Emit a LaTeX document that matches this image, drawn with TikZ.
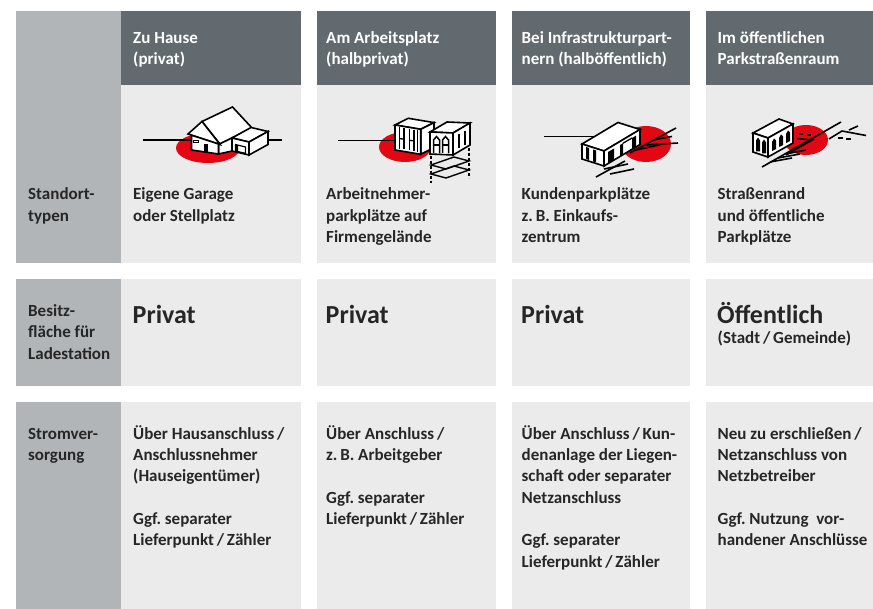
\documentclass[tikz,border=0pt]{standalone}
\usepackage{fontspec}
\setmainfont{Carlito}
\frenchspacing
\definecolor{hdr}{HTML}{636A6F}
\definecolor{lab}{HTML}{B1B5B8}
\definecolor{cell}{HTML}{EBEBEB}
\definecolor{rd}{HTML}{E30613}
\definecolor{txtc}{HTML}{262626}
\tikzset{
  txt/.style={anchor=base west, inner sep=0pt, align=left, text=txtc, font=\bfseries\fontsize{17}{21.3}\selectfont},
  hd/.style={txt, text=white},
  big/.style={txt, font=\bfseries\fontsize{26}{30}\selectfont},
  ic/.style={draw=black, fill=white, line width=1.6pt, line join=miter},
  icl/.style={draw=black, line width=1.6pt},
  redspot/.style={fill=rd},
}
\begin{document}
\begin{tikzpicture}[x=1pt,y=-1pt]
\useasboundingbox (0,0) rectangle (873,609);
\fill[white] (0,0) rectangle (873,609);
% ---------- backgrounds ----------
\fill[lab] (16,11) rectangle (121,263);
\fill[lab] (16,279) rectangle (121,386);
\fill[lab] (16,402) rectangle (121,609);
\foreach \a/\b in {121/301,317/496,512/690,706/873}{
  \fill[cell] (\a,85) rectangle (\b,263);
  \fill[hdr] (\a,11) rectangle (\b,85);
  \fill[cell] (\a,279) rectangle (\b,386);
  \fill[cell] (\a,402) rectangle (\b,609);
}
% ---------- icon 1: house ----------
\fill[redspot] (208,148) ellipse [x radius=32, y radius=15];
\draw[icl] (143,140) -- (282,140);
\draw[ic] (202,121.5) -- (232.5,107) -- (252,128) -- (220,144) -- cycle;
\draw[ic] (218.5,144.5) -- (232,138) -- (232,151) -- (218.5,154) -- cycle;
\draw[ic] (188,134) -- (202,121.5) -- (220,144.5) -- cycle;
\draw[ic] (191.5,135.2) -- (218.5,144) -- (218.5,154) -- (191.5,150) -- cycle;
\fill[black] (203.5,144) rectangle (207.5,152.3);
\draw[black, line width=1pt] (193.5,140.5) rectangle (198,143);
\draw[ic] (232,138) -- (249,142) -- (268,131.5) -- (251,127.5) -- cycle;
\draw[ic] (232,138) -- (249,142) -- (249,155) -- (232,151) -- cycle;
\draw[ic] (249,142) -- (268,131.5) -- (268,144.5) -- (249,155) -- cycle;
\draw[black, line width=1.1pt] (235.5,144.5) -- (245.5,147) -- (245.5,153.3) -- (235.5,151) -- cycle;
\fill[black] (235.5,144.5) -- (238,145.1) -- (238,151.6) -- (235.5,151) -- cycle;
% ---------- icon 2: workplace ----------
\fill[redspot] (405,147) ellipse [x radius=26, y radius=15];
\draw[icl] (338,140.7) -- (396,140.7);
\draw[ic] (395,125) -- (420.7,129.3) -- (434,122.6) -- (408.3,118.3) -- cycle;
\draw[ic] (420.7,129.3) -- (434,122.6) -- (434,147.6) -- (420.7,154.3) -- cycle;
\draw[ic] (395,125) -- (420.7,129.3) -- (420.7,154.3) -- (395,150) -- cycle;
\foreach \x in {399.5,404,409.5,414,417.5}{
  \draw[black, line width=1.5pt] (\x,{126.5+(\x-395)*0.167}) -- (\x,{148+(\x-395)*0.167});
}
\draw[black, line width=1.3pt] (399.5,138.5) -- (404,139.3);
\draw[black, line width=1.3pt] (409.5,140.3) -- (414,141);
% parking deck
\draw[black, line width=1.4pt] (431,165) -- (454,157) -- (469,161) -- (446,169) -- cycle;
\draw[black, line width=1.4pt] (431,174) -- (454,166) -- (469,170) -- (446,178) -- cycle;
\draw[black, line width=1.6pt, dash pattern=on 3pt off 2pt] (431,156) -- (431,183);
\draw[black, line width=1.6pt, dash pattern=on 3pt off 2pt] (469,148) -- (469,178);
% building B
\draw[ic] (430,132) -- (453,133) -- (470,123) -- (447,122) -- cycle;
\draw[ic] (453,133) -- (470,123) -- (470,145) -- (453,155) -- cycle;
\draw[ic] (430,132) -- (453,133) -- (453,155) -- (430,154) -- cycle;
\foreach \x in {433.5,442.5}{
  \draw[black, line width=1.5pt, line join=miter] (\x,153) -- (\x,140) -- (\x+3,136.5) -- (\x+6,140) -- (\x+6,153.5);
  \draw[black, line width=1.2pt] (\x,145) -- (\x+6,145);
}
\draw[black, line width=1.5pt] (459,148) -- (459,134);
\draw[black, line width=1.5pt] (465,145) -- (465,131);
% ---------- icon 3: infrastructure partner ----------
\fill[redspot] (646,144) ellipse [x radius=25, y radius=18];
\draw[icl] (544,136.7) -- (600,136.7);
\draw[ic] (582,144) -- (618,122.5) -- (640,129.5) -- (604,151) -- cycle;
\draw[ic] (604,151) -- (640,129.5) -- (640,144.5) -- (604,166) -- cycle;
\draw[ic] (582,144) -- (604,151) -- (604,166) -- (582,159) -- cycle;
\fill[black] (586,147) -- (589,148) -- (589,160) -- (586,159) -- cycle;
\fill[black] (593,149.5) -- (596,150.5) -- (596,162.5) -- (593,161.5) -- cycle;
\fill[black] (608,152) -- (614,148.5) -- (614,160) -- (608,163.5) -- cycle;
\fill[black] (620,145) -- (623,143.2) -- (623,154.5) -- (620,156.3) -- cycle;
\draw[black, line width=1.3pt] (623,143.2) -- (632,138) ;
\fill[black] (632,138) -- (636,135.6) -- (636,147) -- (632,149.4) -- cycle;
% parking lines
\draw[icl] (596,177) -- (625,161);
\draw[icl] (604,169) -- (628,164);
\draw[icl] (610,174) -- (634,169);
\draw[icl] (630,153) -- (676,128);
\draw[icl] (636,150) -- (661,144.5);
\draw[icl] (645,145) -- (678,143);
\draw[icl] (653,140) -- (672,136.5);
% ---------- icon 4: public street ----------
\fill[redspot] (806,140) ellipse [x radius=22, y radius=15];
\draw[ic] (753,133) -- (779,119) -- (793,124) -- (768,138) -- cycle;
\draw[ic] (753,133) -- (768,138) -- (768,157) -- (753,152) -- cycle;
\draw[ic] (768,138) -- (793,124) -- (793,143) -- (768,157) -- cycle;
\foreach \x/\y in {756/137.5, 762/139.5}{
  \fill[black] (\x,\y+14) -- (\x,\y+3) -- (\x+2,\y) -- (\x+4,\y+3) -- (\x+4,\y+14) -- cycle;
}
\foreach \x/\y in {772/139, 779/135, 786/131}{
  \fill[black] (\x,\y+12) -- (\x,\y+3) -- (\x+2,\y-0.5) -- (\x+4,\y+1.5) -- (\x+4,\y+10) -- cycle;
}
\draw[icl] (762,167) -- (841,122);
\draw[icl] (786,155) -- (812,140) -- (797,138.5);
\draw[icl] (770,162) -- (792,158);
\draw[icl] (778,158) -- (800,154);
\draw[icl] (786,154) -- (806,150);
\draw[icl] (799,134) -- (803,134);
\draw[icl] (807,135) -- (811,135);
\draw[icl] (829,139) -- (842,131) -- (866,135.5);
\draw[icl] (838,138) -- (843,138);
\draw[icl] (846,139) -- (851,139);
\draw[icl] (849,130) -- (858,126);
% ---------- texts: header (anchor = baseline of last line) ----------
\node[hd] (h1) at (133,64.6) {Zu Hause\\(privat)};
\node[hd] (h2) at (326,64.6) {Am Arbeitsplatz\\(halbprivat)};
\node[hd] (h3) at (521.5,64.6) {Bei Infrastrukturpart-\\nern (halböffentlich)};
\node[hd] (h4) at (717.5,64.6) {Im öffentlichen\\Parkstraßenraum};
% ---------- row 1 ----------
\node[txt] (l1) at (28,221.3) {Standort-\\typen};
\node[txt] (a1) at (133,221.3) {Eigene Garage\\oder Stellplatz};
\node[txt] (b1) at (326,242.6) {Arbeitnehmer-\\parkplätze auf\\Firmengelände};
\node[txt] (c1) at (521.5,242.6) {Kundenparkplätze\\z.\,B. Einkaufs-\\zentrum};
\node[txt] (d1) at (717.5,242.6) {Straßenrand\\und öffentliche\\Parkplätze};
% ---------- row 2 ----------
\node[txt] (l2) at (28,359.3) {Besitz-\\fläche für\\Ladestation};
\node[big] (a2) at (132.5,323.3) {Privat};
\node[big] (b2) at (325.5,323.3) {Privat};
\node[big] (c2) at (521,323.3) {Privat};
\node[big] (d2) at (717,323.3) {Öffentlich};
\node[txt] (d2s) at (717.5,343.5) {(Stadt\,/\,Gemeinde)};
% ---------- row 3 ----------
\node[txt] (l3) at (28,460.6) {Stromver-\\sorgung};
\node[txt] (a3) at (133,545.8) {Über Hausanschluss\,/\\Anschlussnehmer\\(Hauseigentümer)\\[21.3pt]Ggf. separater\\Lieferpunkt\,/\,Zähler};
\node[txt] (b3) at (326,524.5) {Über Anschluss\,/\\z.\,B. Arbeitgeber\\[21.3pt]Ggf. separater\\Lieferpunkt\,/\,Zähler};
\node[txt] (c3) at (521.5,567.1) {Über Anschluss\,/\,Kun-\\denanlage der Liegen-\\schaft oder separater\\Netzanschluss\\[21.3pt]Ggf. separater\\Lieferpunkt\,/\,Zähler};
\node[txt] (d3) at (717.5,545.8) {Neu zu erschließen\,/\\Netzanschluss von\\Netzbetreiber\\[21.3pt]Ggf. Nutzung~ vor-\\handener Anschlüsse};
\end{tikzpicture}
\end{document}
